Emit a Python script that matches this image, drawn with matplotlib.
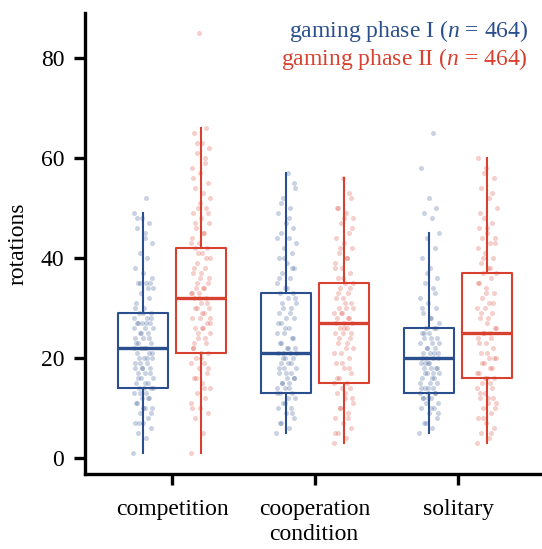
# Rotations per condition and gaming phase: boxplots with jittered points
import numpy as np
import matplotlib
matplotlib.use("Agg")
import matplotlib.pyplot as plt

plt.rcParams['font.family'] = ['Liberation Serif', 'DejaVu Serif']
plt.rcParams['mathtext.fontset'] = 'custom'
plt.rcParams['mathtext.rm'] = 'Liberation Serif'
plt.rcParams['mathtext.it'] = 'Liberation Serif:italic'

# ---------------- DATA ----------------
conditions = ["competition", "cooperation", "solitary"]
phases = ["gaming phase I ($n$ = 464)", "gaming phase II ($n$ = 464)"]

# box statistics (per condition)
q1_phase1 = [14, 13, 13]
med_phase1 = [22, 21, 20]
q3_phase1 = [29, 33, 26]
lo_phase1 = [1, 5, 5]
hi_phase1 = [49, 57, 45]

q1_phase2 = [21, 15, 16]
med_phase2 = [32, 27, 25]
q3_phase2 = [42, 35, 37]
lo_phase2 = [1, 3, 3]
hi_phase2 = [66, 56, 60]

# individual observations (approximate, read from the jittered points)
comp_p1 = [1, 4, 5, 6, 7, 7, 8, 9, 10, 10, 11, 12, 12, 13, 13, 14, 14, 14, 15, 15,
           16, 16, 17, 17, 18, 18, 18, 19, 19, 20, 20, 21, 21, 22, 22, 22, 23, 23,
           24, 24, 25, 25, 26, 26, 27, 27, 27, 28, 28, 29, 29, 30, 31, 32, 33, 34,
           35, 35, 35, 37, 38, 40, 41, 43, 45, 46, 47, 48, 49, 52,
           7, 9, 10, 11, 12, 13, 14, 15, 16, 17, 18, 19, 20, 20, 21, 22, 23, 24,
           25, 26, 27, 27, 28, 29, 30, 34, 35, 36, 44, 48]
comp_p2 = [1, 5, 8, 9, 10, 10, 12, 13, 14, 15, 16, 17, 18, 19, 19, 20, 21, 21, 22,
           23, 24, 25, 26, 26, 27, 28, 28, 29, 30, 30, 31, 32, 32, 33, 33, 34, 34,
           35, 36, 37, 38, 39, 40, 41, 42, 42, 43, 44, 45, 46, 47, 48, 49, 50, 50,
           52, 53, 54, 55, 57, 58, 60, 61, 62, 63, 65, 66, 85,
           11, 14, 16, 18, 20, 22, 24, 25, 27, 29, 30, 31, 32, 33, 34, 35, 36, 37,
           38, 40, 41, 43, 45, 47, 49, 51, 56, 59, 63, 28, 26, 23]
coop_p1 = [5, 6, 7, 8, 9, 10, 10, 11, 12, 12, 13, 13, 14, 14, 15, 15, 16, 16, 17,
           17, 18, 18, 19, 19, 20, 20, 21, 21, 21, 22, 22, 23, 24, 25, 25, 26, 27,
           28, 28, 29, 30, 30, 31, 32, 33, 33, 34, 35, 36, 37, 38, 39, 40, 41, 42,
           43, 44, 45, 46, 47, 49, 50, 52, 54, 57,
           7, 9, 11, 13, 14, 15, 16, 17, 18, 19, 20, 21, 22, 23, 24, 26, 27, 29,
           31, 32, 34, 36, 38, 40, 44, 48, 51, 55]
coop_p2 = [3, 4, 5, 6, 7, 8, 9, 10, 11, 12, 13, 14, 14, 15, 15, 16, 17, 18, 19, 20,
           21, 22, 22, 23, 24, 25, 25, 26, 26, 27, 27, 28, 28, 29, 29, 30, 30, 31,
           32, 32, 33, 34, 35, 35, 36, 37, 38, 39, 40, 41, 42, 43, 44, 45, 47, 48,
           49, 50, 52, 56,
           5, 8, 10, 12, 13, 16, 18, 19, 21, 23, 24, 25, 26, 27, 28, 29, 30, 31,
           33, 34, 36, 38, 40, 42, 46, 48, 50, 53]
sol_p1 = [5, 6, 7, 8, 9, 10, 10, 11, 11, 12, 12, 13, 13, 13, 14, 14, 15, 15, 16, 16,
          17, 17, 18, 18, 18, 19, 19, 20, 20, 20, 21, 21, 22, 22, 23, 23, 24, 24, 25,
          25, 26, 26, 27, 28, 29, 30, 31, 32, 34, 35, 36, 38, 40, 42, 44, 45, 48, 49,
          50, 52, 58, 65,
          7, 9, 10, 12, 13, 14, 15, 16, 17, 18, 19, 20, 21, 22, 23, 24, 25, 26,
          12, 14, 17, 19, 21, 28, 30, 33, 37]
sol_p2 = [3, 4, 5, 6, 7, 8, 9, 10, 11, 11, 12, 12, 13, 14, 15, 15, 16, 16, 17, 18,
          19, 20, 20, 21, 22, 23, 24, 25, 25, 26, 27, 28, 29, 30, 30, 31, 32, 33, 34,
          35, 36, 37, 37, 38, 39, 40, 41, 42, 43, 44, 44, 45, 46, 47, 48, 50, 52, 54,
          56, 58, 60,
          5, 8, 10, 12, 13, 14, 16, 17, 18, 19, 20, 21, 23, 24, 25, 26, 28, 29,
          31, 33, 35, 38, 40, 43, 46, 49, 53, 57]

points_phase1 = [comp_p1, coop_p1, sol_p1]
points_phase2 = [comp_p2, coop_p2, sol_p2]

blue = "#2B4F8E"
red = "#D8402F"

# ---------------- PLOT ----------------
fig = plt.figure(figsize=(5.42, 5.49), dpi=100)
ax = fig.add_axes([0.157, 0.1366, 0.843, 0.8394])

x = np.arange(len(conditions))
offset = 0.2
width = 0.35


def jitter(n, spread=0.07):
    # deterministic spread of points around the box centre
    k = np.arange(n)
    return ((k * 0.6180339887) % 1.0 - 0.5) * 2 * spread


groups = [
    (points_phase1, q1_phase1, med_phase1, q3_phase1, lo_phase1, hi_phase1, -offset, blue),
    (points_phase2, q1_phase2, med_phase2, q3_phase2, lo_phase2, hi_phase2, offset, red),
]

for pts, q1, med, q3, lo, hi, dx, col in groups:
    for i in range(len(conditions)):
        vals = np.array(pts[i])
        ax.scatter(x[i] + dx + jitter(len(vals)), vals, s=13, color=col,
                   alpha=0.25, linewidths=0, zorder=2)
    stats = [dict(q1=q1[i], med=med[i], q3=q3[i], whislo=lo[i], whishi=hi[i], fliers=[])
             for i in range(len(conditions))]
    ax.bxp(stats, positions=x + dx, widths=width, showcaps=False, showfliers=False,
           boxprops=dict(color=col, linewidth=1.5),
           whiskerprops=dict(color=col, linewidth=1.5),
           medianprops=dict(color=col, linewidth=2.4),
           manage_ticks=False, zorder=3)

ax.set_xlim(-0.608, 2.587)
ax.set_ylim(-3.2, 89)
ax.set_xticks(x)
ax.set_xticklabels(conditions)
ax.set_yticks([0, 20, 40, 60, 80])

for side in ["top", "right"]:
    ax.spines[side].set_visible(False)
for side in ["left", "bottom"]:
    ax.spines[side].set_linewidth(2.4)
ax.tick_params(axis="both", width=2.4, length=8, labelsize=17)
ax.tick_params(axis="y", pad=7)
ax.tick_params(axis="x", pad=10)

ax.set_ylabel("rotations", fontsize=17, labelpad=9)
ax.set_xlabel("condition", fontsize=17, labelpad=3)

fig.text(0.974, 0.9326, phases[0], color=blue, fontsize=17, ha="right", va="baseline")
fig.text(0.974, 0.8816, phases[1], color=red, fontsize=17, ha="right", va="baseline")

fig.savefig("out.png", dpi=100)
